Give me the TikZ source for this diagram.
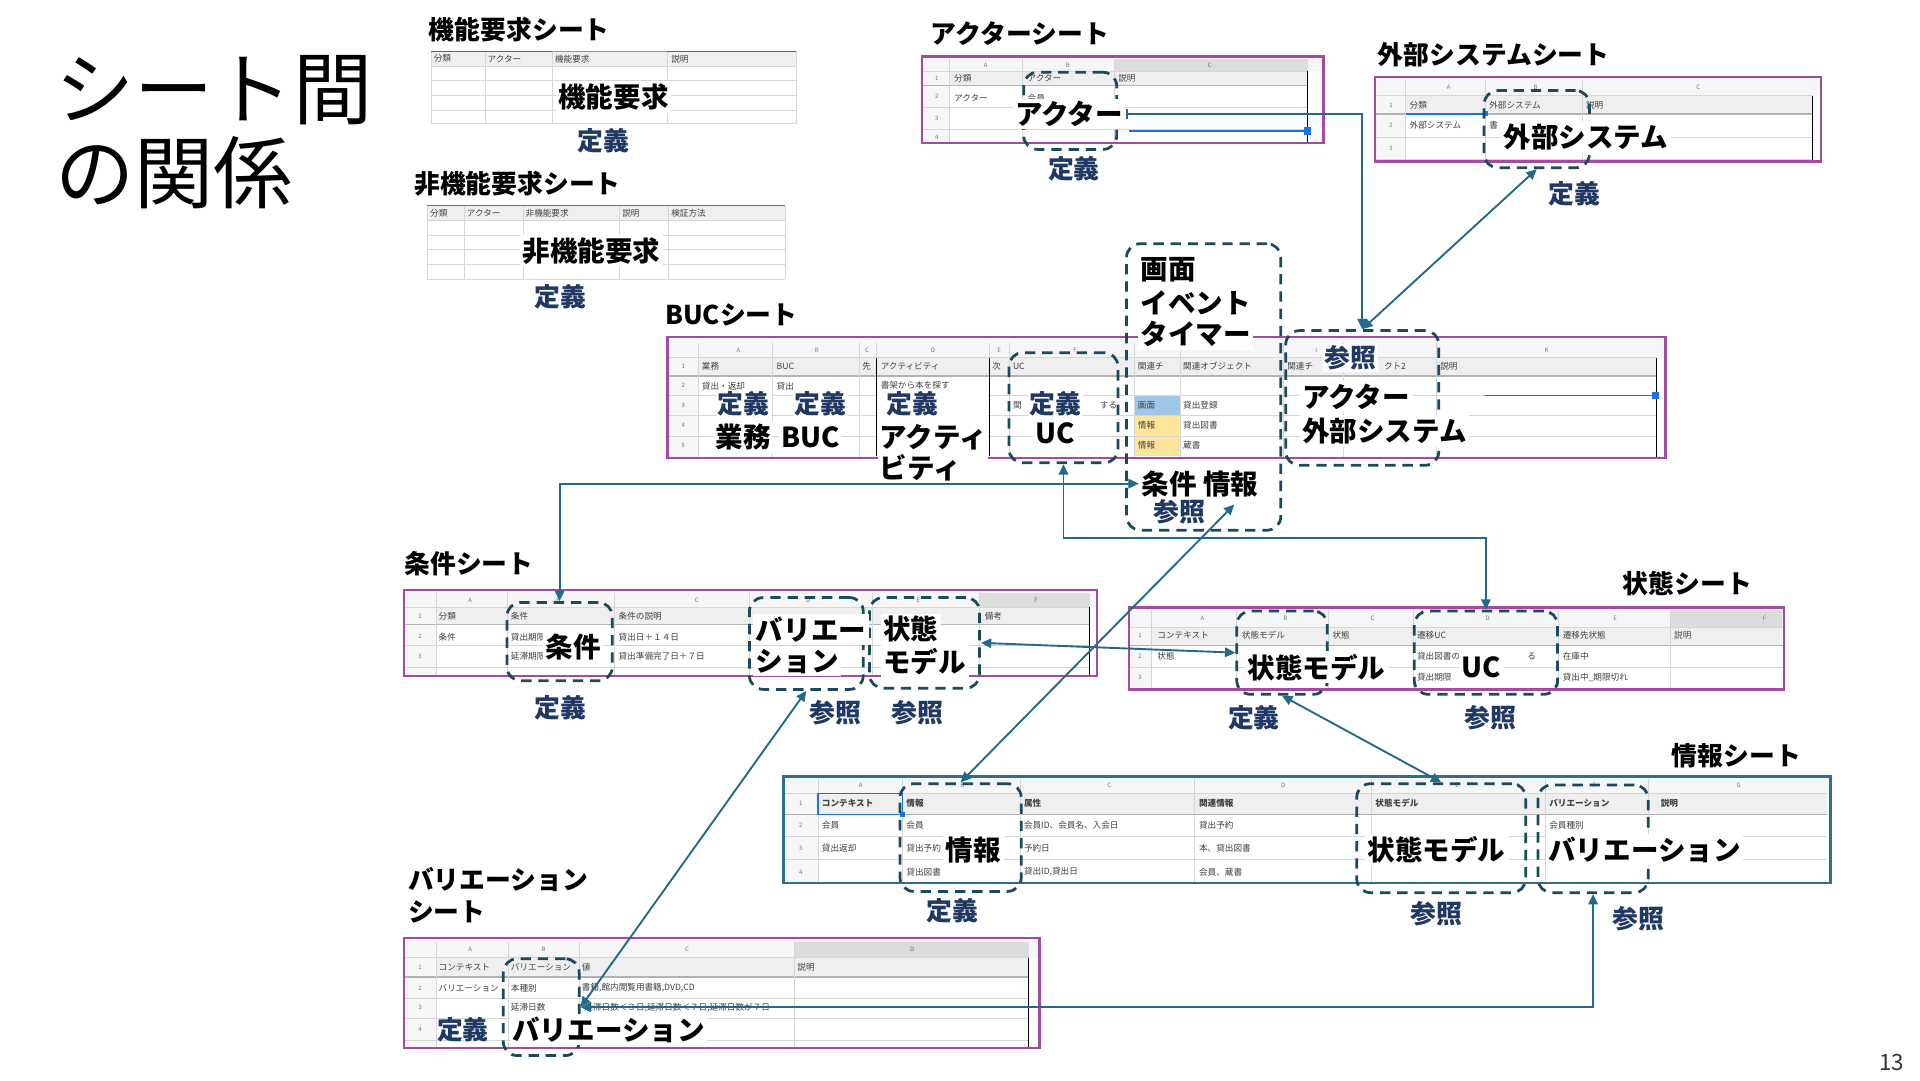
\documentclass[tikz,border=0pt]{standalone}
\usepackage{fontspec}
\usetikzlibrary{arrows.meta,fit}
\newfontfamily\jp{Noto Sans CJK JP}
\definecolor{sheetpurple}{HTML}{A24BA0}
\definecolor{conncol}{HTML}{236A8A}
\definecolor{boxcol}{HTML}{1B4A5C}
\definecolor{navy}{HTML}{1F3864}
\definecolor{infoframe}{HTML}{2F6E8E}
\definecolor{gridcol}{HTML}{D6D6D6}
\definecolor{hdrfill}{HTML}{EFEFEF}
\definecolor{letfill}{HTML}{F6F6F6}
\definecolor{selfill}{HTML}{DCDCDC}
\definecolor{cellblue}{HTML}{9FC5E8}
\definecolor{cellyellow}{HTML}{FFE599}
\definecolor{selblue}{HTML}{1A73E8}
\newcounter{cellno}
\newcommand\ct[3]{\stepcounter{cellno}\node[cell] (cell\thecellno) at (#1,#2) {#3};}
\newcommand\cl[3]{\stepcounter{cellno}\node[colletter] (cell\thecellno) at (#1,#2) {#3};}
\newcommand\hlines[3]{\foreach \yy in {#3} {\draw[gridln] (#1,\yy) -- (#2,\yy);}}
\newcommand\vlines[3]{\foreach \xx in {#1} {\draw[gridln] (\xx,#2) -- (\xx,#3);}}
\tikzset{
  cell/.style={anchor=west, inner sep=0pt, font=\jp\fontsize{5}{5}\selectfont, text=black!75},
  colletter/.style={inner sep=0pt, font=\jp\fontsize{3.5}{3.5}\selectfont, text=black!55},
  titletext/.style={anchor=west, inner sep=0pt, font=\jp\fontsize{46}{50}\selectfont},
  sheettitle/.style={anchor=west, inner sep=0pt, font=\jp\bfseries\fontsize{15}{16}\selectfont},
  big/.style={inner sep=1.5pt, fill=white, font=\jp\bfseries\fontsize{16}{18}\selectfont},
  bigw/.style={big, anchor=west},
  navylbl/.style={inner sep=1pt, font=\jp\bfseries\fontsize{15}{17}\selectfont, text=navy},
  dbox/.style={draw=boxcol, line width=1.6pt, dash pattern=on 6pt off 4pt, rounded corners=8pt, inner sep=0pt},
  conn/.style={draw=conncol, line width=1.1pt, arrows={-Triangle[length=6pt,width=5.5pt]}},
  conntwo/.style={draw=conncol, line width=1.1pt, arrows={Triangle[length=6pt,width=5.5pt]-Triangle[length=6pt,width=5.5pt]}},
  sheetframe/.style={draw=sheetpurple, line width=1.4pt},
  gridln/.style={draw=gridcol, line width=0.4pt},
  darkedge/.style={draw=black, line width=0.8pt},
}
\begin{document}
\begin{tikzpicture}[x=0.25mm,y=-0.25mm]
\useasboundingbox (0,0) rectangle (1568,882);
\fill[white] (0,0) rectangle (1568,882);

% ---------- title ----------
\node[titletext] (title1) at (45,74) {シート間};
\node[titletext] (title2) at (45,141) {の関係};
\node[inner sep=0pt, font=\jp\fontsize{13}{13}\selectfont, text=black!80] (pgno) at (1545,868) {13};

% ---------- sheet titles ----------
\node[sheettitle] (lblFunc) at (350,24) {機能要求シート};
\node[sheettitle] (lblNonFunc) at (338,150) {非機能要求シート};
\node[sheettitle] (lblActor) at (760,27) {アクターシート};
\node[sheettitle] (lblExt) at (1125,45) {外部システムシート};
\node[sheettitle] (lblBuc) at (543,257) {BUCシート};
\node[sheettitle] (lblCond) at (330,460) {条件シート};
\node[sheettitle] (lblState) at (1325,477) {状態シート};
\node[sheettitle] (lblInfo) at (1365,617) {情報シート};
\node[sheettitle] (lblVar1) at (333,718) {バリエーション};
\node[sheettitle] (lblVar2) at (333,745) {シート};

% ---------- 機能要求 table ----------
\fill[hdrfill] (352,42) rectangle (650,54);
\hlines{352}{650}{54,66,78,90,101}
\vlines{352,396,451,545,650}{42}{101}
\draw[black!60, line width=0.6pt] (352,42) -- (650,42);
\draw[red!60, line width=0.6pt] (451,42) -- (545,42);
\ct{354}{48}{分類}\ct{398}{48}{アクター}\ct{453}{48}{機能要求}\ct{548}{48}{説明}

% ---------- 非機能要求 table ----------
\fill[hdrfill] (349,168) rectangle (641,180);
\hlines{349}{641}{180,192,204,216,228}
\vlines{349,379,427,506,546,641}{168}{228}
\draw[blue!30!black!60, line width=0.6pt] (349,168) -- (641,168);
\ct{351}{174}{分類}\ct{381}{174}{アクター}\ct{429}{174}{非機能要求}\ct{508}{174}{説明}\ct{548}{174}{検証方法}

% ---------- アクター sheet ----------
\fill[letfill] (753,46) rectangle (1081,58);
\fill[selfill] (910,48) rectangle (1068,58);
\fill[letfill] (753,46) rectangle (775,117);
\fill[hdrfill] (775,58) rectangle (1068,70);
\hlines{753}{1068}{58,88,106}
\draw[gray!60, line width=0.8pt] (753,70) -- (1068,70);
\vlines{775,835,910}{48}{117}
\draw[darkedge] (1068,58) -- (1068,117);
\cl{805}{53}{A}\cl{872}{53}{B}\cl{988}{53}{C}
\cl{765}{64}{1}\cl{765}{79}{2}\cl{765}{97}{3}\cl{765}{112}{4}
\ct{779}{64}{分類}\ct{839}{64}{アクター}\ct{913}{64}{説明}
\ct{779}{80}{アクター}\ct{839}{80}{会員}
\draw[selblue, line width=0.8pt] (922,107) -- (1068,107);
\fill[selblue] (1065,104) rectangle (1071,110);
\draw[sheetframe] (753,46) rectangle (1081,117);

% ---------- 外部システム sheet ----------
\fill[letfill] (1123,63) rectangle (1487,78);
\fill[letfill] (1123,63) rectangle (1148,132);
\fill[hdrfill] (1148,78) rectangle (1480,93);
\hlines{1123}{1480}{78,112,130}
\draw[gray!60, line width=0.8pt] (1123,93) -- (1480,93);
\vlines{1148,1213,1292}{65}{132}
\draw[darkedge] (1480,78) -- (1480,132);
\cl{1183}{71}{A}\cl{1254}{71}{B}\cl{1387}{71}{C}
\cl{1136}{86}{1}\cl{1136}{102}{2}\cl{1136}{121}{3}
\ct{1151}{86}{分類}\ct{1216}{86}{外部システム}\ct{1295}{86}{説明}
\ct{1151}{102}{外部システム}\ct{1216}{102}{書}
\draw[selblue, line width=0.8pt] (1148,93) -- (1213,93);
\fill[selblue] (1211,91) rectangle (1215,95);
\draw[sheetframe] (1123,63) rectangle (1487,132);

% ---------- BUC sheet ----------
\fill[letfill] (545,277) rectangle (1360,292);
\fill[letfill] (545,277) rectangle (570,374);
\fill[hdrfill] (570,292) rectangle (1353,307);
\fill[cellblue] (926,323) rectangle (964,339);
\fill[cellyellow] (926,339) rectangle (964,372);
\hlines{545}{1353}{323,339,356}
\draw[gray!60, line width=0.8pt] (545,307) -- (1353,307);
\draw[gridln] (545,292) -- (1353,292);
\vlines{570,631,702,716,808,824,926,964,1048,1097,1173}{280}{374}
\draw[darkedge] (1353,292) -- (1353,374);
\draw[black, line width=0.6pt] (716,292) -- (716,372);
\draw[black, line width=0.6pt] (808,292) -- (808,372);
\cl{603}{286}{A}\cl{667}{286}{B}\cl{708}{286}{C}\cl{762}{286}{D}\cl{816}{286}{E}\cl{878}{286}{F}\cl{1075}{286}{I}\cl{1263}{286}{K}
\cl{558}{299}{1}\cl{558}{315}{2}\cl{558}{331}{3}\cl{558}{347}{4}\cl{558}{364}{5}
\ct{573}{299}{業務}\ct{634}{299}{BUC}\ct{704}{299}{先}\ct{719}{299}{アクティビティ}\ct{810}{299}{次}\ct{827}{299}{UC}
\ct{929}{299}{関連チ}\ct{966}{299}{関連オブジェクト}\ct{1051}{299}{関連チ}\ct{1130}{299}{クト2}\ct{1176}{299}{説明}
\ct{573}{315}{貸出・返却}\ct{634}{315}{貸出}\ct{719}{315}{書架から本を探す}
\ct{827}{331}{関}\ct{898}{331}{する}\ct{929}{331}{画面}\ct{966}{331}{貸出登録}
\ct{929}{347}{情報}\ct{966}{347}{貸出図書}
\ct{929}{364}{情報}\ct{966}{364}{蔵書}
\draw[selblue, line width=0.8pt] (1213,323) -- (1352,323);
\fill[selblue] (1349,320) rectangle (1355,326);
\draw[sheetframe] (545,275) rectangle (1360,374);

% ---------- 条件 sheet ----------
\fill[letfill] (330,482) rectangle (896,496);
\fill[selfill] (800,484) rectangle (890,496);
\fill[letfill] (330,482) rectangle (356,552);
\fill[hdrfill] (356,496) rectangle (890,510);
\hlines{330}{890}{527,545}
\draw[gray!60, line width=0.8pt] (330,510) -- (890,510);
\draw[gridln] (330,496) -- (890,496);
\vlines{356,414,502,612,712,800}{484}{552}
\draw[darkedge] (890,496) -- (890,552);
\cl{384}{490}{A}\cl{456}{490}{B}\cl{569}{490}{C}\cl{660}{490}{D}\cl{750}{490}{E}\cl{846}{490}{F}
\cl{343}{503}{1}\cl{343}{520}{2}\cl{343}{536}{3}
\ct{358}{503}{分類}\ct{417}{503}{条件}\ct{505}{503}{条件の説明}\ct{804}{503}{備考}
\ct{358}{520}{条件}\ct{417}{520}{貸出期限}\ct{505}{520}{貸出日＋１４日}
\ct{417}{536}{延滞期限}\ct{505}{536}{貸出準備完了日＋７日}
\draw[sheetframe] (330,482) rectangle (896,552);

% ---------- 状態 sheet ----------
\fill[letfill] (922,496) rectangle (1457,512);
\fill[selfill] (1364,498) rectangle (1455,512);
\fill[letfill] (922,496) rectangle (940,563);
\fill[hdrfill] (940,512) rectangle (1455,527);
\hlines{922}{1457}{545}
\draw[gray!60, line width=0.8pt] (922,527) -- (1457,527);
\draw[gridln] (922,512) -- (1457,512);
\vlines{940,1010,1085,1154,1273,1364}{498}{563}
\cl{982}{505}{A}\cl{1050}{505}{B}\cl{1121}{505}{C}\cl{1215}{505}{D}\cl{1319}{505}{E}\cl{1441}{505}{F}
\cl{931}{519}{1}\cl{931}{536}{2}\cl{931}{553}{3}
\ct{945}{519}{コンテキスト}\ct{1014}{519}{状態モデル}\ct{1088}{519}{状態}\ct{1157}{519}{遷移UC}\ct{1276}{519}{遷移先状態}\ct{1367}{519}{説明}
\ct{945}{536}{状態}\ct{1157}{536}{貸出図書の}\ct{1247}{536}{る}\ct{1276}{536}{在庫中}
\ct{1157}{553}{貸出期限}\ct{1276}{553}{貸出中\_期限切れ}
\draw[sheetframe] (922,496) rectangle (1457,563);

% ---------- 情報 sheet ----------
\fill[letfill] (640,634) rectangle (1495,648);
\fill[letfill] (640,634) rectangle (668,721);
\fill[hdrfill] (668,648) rectangle (1492,665);
\hlines{640}{1492}{683,702}
\draw[gray!60, line width=0.8pt] (640,665) -- (1492,665);
\draw[gridln] (640,648) -- (1492,648);
\vlines{668,737,833,975,1120,1262,1346}{636}{721}
\cl{703}{641}{A}\cl{786}{641}{B}\cl{906}{641}{C}\cl{1048}{641}{D}\cl{1190}{641}{E}\cl{1302}{641}{F}\cl{1420}{641}{G}
\cl{654}{656}{1}\cl{654}{674}{2}\cl{654}{693}{3}\cl{654}{712}{4}
\ct{671}{656}{\bfseries コンテキスト}\ct{740}{656}{\bfseries 情報}\ct{836}{656}{\bfseries 属性}\ct{979}{656}{\bfseries 関連情報}\ct{1123}{656}{\bfseries 状態モデル}\ct{1265}{656}{\bfseries バリエーション}\ct{1356}{656}{\bfseries 説明}
\ct{671}{674}{会員}\ct{740}{674}{会員}\ct{836}{674}{会員ID、会員名、入会日}\ct{979}{674}{貸出予約}\ct{1265}{674}{会員種別}
\ct{671}{693}{貸出返却}\ct{740}{693}{貸出予約}\ct{836}{693}{予約日}\ct{979}{693}{本、貸出図書}
\ct{740}{712}{貸出図書}\ct{836}{712}{貸出ID,貸出日}\ct{979}{712}{会員、蔵書}
\draw[selblue, line width=0.8pt] (668,648) rectangle (737,665);
\fill[selblue] (735,663) rectangle (739,667);
\draw[draw=infoframe, line width=1.4pt] (640,634) rectangle (1495,721);

% ---------- バリエーション sheet ----------
\fill[letfill] (330,766) rectangle (849,782);
\fill[selfill] (649,769) rectangle (840,782);
\fill[letfill] (330,766) rectangle (356,856);
\fill[hdrfill] (356,782) rectangle (840,798);
\hlines{330}{840}{815,832,850}
\draw[gray!60, line width=0.8pt] (330,798) -- (840,798);
\draw[gridln] (330,782) -- (840,782);
\vlines{356,415,473,649}{769}{856}
\draw[darkedge] (840,782) -- (840,856);
\cl{384}{775}{A}\cl{444}{775}{B}\cl{561}{775}{C}\cl{745}{775}{D}
\cl{343}{790}{1}\cl{343}{807}{2}\cl{343}{823}{3}\cl{343}{841}{4}
\ct{358}{790}{コンテキスト}\ct{417}{790}{バリエーション}\ct{475}{790}{値}\ct{651}{790}{説明}
\ct{358}{807}{バリエーション}\ct{417}{807}{本種別}\ct{475}{807}{書籍,館内閲覧用書籍,DVD,CD}
\ct{417}{823}{延滞日数}\ct{477}{823}{延滞日数＜３日,延滞日数＜７日,延滞日数が７日}
\draw[sheetframe] (330,766) rectangle (849,856);

% ---------- dashed boxes ----------
\node[dbox, fit={(836,59)(912,122)}] (actBox) {};
\node[dbox, fit={(1212,74)(1298,137)}] (extBox) {};
\node[dbox, fit={(824,288)(913,378)}] (ucBox) {};
\node[dbox, fit={(920,199)(1046,433)}] (gamenBox) {};
\node[dbox, fit={(1050,270)(1175,380)}] (refBox) {};
\node[dbox, fit={(414,492)(500,556)}] (condBox) {};
\node[dbox, fit={(612,488)(705,563)}] (cVarBox) {};
\node[dbox, fit={(710,488)(800,562)}] (cSmBox) {};
\node[dbox, fit={(1010,499)(1084,567)}] (sSmBox) {};
\node[dbox, fit={(1155,499)(1272,567)}] (sUcBox) {};
\node[dbox, fit={(735,640)(834,728)}] (iInfoBox) {};
\node[dbox, fit={(1108,640)(1246,729)}] (iSmBox) {};
\node[dbox, fit={(1256,641)(1346,729)}] (iVarBox) {};
\node[dbox, fit={(411,783)(473,862)}] (vVarBox) {};

% ---------- big texts ----------
\node[big] (funcT) at (501,79) {機能要求};
\node[navylbl] (funcDef) at (493,115) {定義};
\node[big] (nonfuncT) at (483,205) {非機能要求};
\node[navylbl] (nonfuncDef) at (458,242) {定義};

\node[big] (actT) at (873,93) {アクター};
\node[navylbl] (actDef) at (877,138) {定義};

\node[big] (extT) at (1295,112) {外部システム};
\node[navylbl] (extDef) at (1286,158) {定義};

% BUC
\node[navylbl, fill=white] (bucDef1) at (607,330) {定義};
\node[navylbl, fill=white] (bucDef2) at (670,330) {定義};
\node[big] (gyomuT) at (607,357) {業務};
\node[big] (bucT) at (662,357) {BUC};
\fill[white] (717,321) rectangle (807,393);
\node[navylbl] (actvDef) at (745,330) {定義};
\node[bigw, fill=none] (actvT1) at (716,357) {アクティ};
\node[bigw, fill=none] (actvT2) at (716,382) {ビティ};
\node[navylbl, fill=white] (ucDef) at (862,330) {定義};
\node[big] (ucT) at (862,354) {UC};
\node[bigw, fill=none] (gamenT) at (929,220) {画面};
\node[bigw, fill=none] (eventT) at (929,247) {イベント};
\node[bigw] (timerT) at (929,273) {タイマー};
\node[bigw, fill=none] (jokenT) at (930,395) {条件 情報};
\node[navylbl] (gamenRef) at (963,418) {参照};
\coordinate (infoRef) at (1008,412);
\node[navylbl, fill=white] (refRef) at (1103,292) {参照};
\node[bigw] (refAct) at (1061,324) {アクター};
\node[bigw] (refExt) at (1061,352) {外部システム};

% 条件
\node[big] (condT) at (468,528) {条件};
\node[navylbl] (condDef) at (458,578) {定義};
\node[bigw] (cVarT1) at (615,514) {バリエー};
\node[bigw] (cVarT2) at (615,540) {ション};
\node[bigw] (cSmT1) at (719,514) {状態};
\node[bigw] (cSmT2) at (719,540) {モデル};
\node[navylbl] (cVarRef) at (682,582) {参照};
\node[navylbl] (cSmRef) at (749,582) {参照};

% 状態
\node[big] (sSmT) at (1075,545) {状態モデル};
\node[big] (sUcT) at (1210,545) {UC};
\node[navylbl] (sSmDef) at (1024,586) {定義};
\node[navylbl] (sUcRef) at (1217,586) {参照};

% 情報
\node[big] (iInfoT) at (795,694) {情報};
\node[big] (iSmT) at (1173,694) {状態モデル};
\node[big] (iVarT) at (1343,694) {バリエーション};
\node[navylbl] (iInfoDef) at (778,744) {定義};
\node[navylbl] (iSmRef) at (1173,746) {参照};
\node[navylbl] (iVarRef) at (1338,750) {参照};

% バリエーション
\node[big] (vVarT) at (497,841) {バリエーション};
\node[navylbl] (vVarDef) at (378,841) {定義};

% ---------- connectors ----------
\draw[conn, arrows={Bar[width=6pt]-Triangle[length=6pt,width=5.5pt]}] (actT.east) -| (refBox.north);
\draw[conntwo] (extBox.south) -- (refBox.north);
\draw[conntwo] (condBox.north) |- (jokenT.west);
\draw[conntwo] (ucBox.south) -- ++(0,60) -| (sUcBox.north);
\draw[conntwo] (cSmBox.east) -- (sSmBox.west);
\draw[conntwo] (cVarBox.south) -- (vVarBox.east);
\draw[conntwo] (iInfoBox.north) -- (infoRef);
\draw[conntwo] (sSmBox.south) -- (iSmBox.north);
\draw[conntwo] (vVarBox.east) -| (iVarBox.south);
\end{tikzpicture}
\end{document}
